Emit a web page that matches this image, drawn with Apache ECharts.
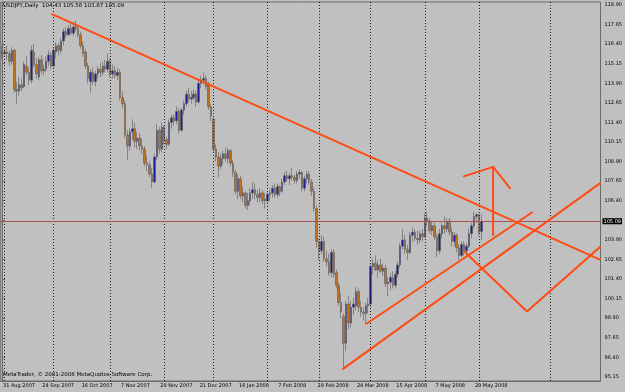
<!DOCTYPE html>
<html>
<head>
<meta charset="utf-8">
<title>USDJPY,Daily</title>
<script src="https://cdn.jsdelivr.net/npm/echarts@6/dist/echarts.min.js"></script>
<style>
html, body { margin: 0; padding: 0; background: #c0c0c0; }
#chart { width: 625px; height: 392px; }
</style>
</head>
<body>
<div id="chart"></div>
<script>
const symbol = 'USDJPY,Daily'
const copyright = 'MetaTrader, \u00a9 2001-2008 MetaQuotes Software Corp.'

// daily bars from 31 Aug 2007 to 3 Jun 2008
const opens = [115.9,115.8,115.9,115.8,115.3,116.0,113.5,113.4,113.8,113.7,115.0,114.6,114.1,115.9,115.1,114.3,115.4,114.7,114.8,115.3,
  115.7,115.0,115.9,116.3,116.0,116.6,117.2,117.0,117.4,117.1,117.5,117.4,117.0,116.3,115.9,115.0,114.0,114.6,114.0,114.5,
  114.8,114.6,115.0,114.8,115.3,114.5,114.7,114.4,114.6,113.0,112.6,110.6,109.9,110.8,111.0,110.2,110.4,109.9,109.7,108.8,
  108.7,108.1,107.6,109.2,110.9,109.7,111.1,110.3,110.0,111.4,111.7,111.5,112.1,110.9,112.2,112.6,113.2,112.9,113.0,113.2,
  112.7,113.9,114.1,114.2,113.8,112.4,111.6,109.7,109.2,108.6,109.1,109.4,109.1,109.6,108.8,108.2,107.0,107.8,106.7,106.9,
  106.1,106.4,106.9,107.1,106.8,106.6,106.9,106.4,106.4,106.8,106.9,107.2,106.8,107.3,107.0,107.6,108.0,107.8,108.0,107.9,
  107.7,108.1,108.2,107.2,107.8,108.1,107.6,107.0,105.9,103.8,103.2,103.8,102.7,102.5,101.8,103.1,101.8,101.0,99.9,99.0,
  97.3,99.8,98.6,99.6,99.7,100.6,99.6,99.3,99.2,99.7,99.8,102.2,102.4,102.0,102.3,101.9,102.1,101.1,101.2,101.5,
  101.0,101.7,102.3,103.5,103.9,103.3,103.1,104.2,104.4,104.0,103.9,104.3,104.1,105.3,105.1,104.5,104.8,104.1,103.2,104.3,
  104.8,104.6,105.1,104.4,103.8,104.2,103.4,102.9,103.6,103.2,103.5,104.3,104.8,105.4,105.5,104.43]
const highs = [116.3,116.1,116.3,116.0,116.2,116.1,114.0,114.3,114.2,115.3,115.6,114.9,116.3,116.4,115.5,115.6,115.7,115.1,115.6,116.0,
  115.9,116.2,116.5,116.5,116.8,117.4,117.5,117.6,117.7,117.8,117.9,117.6,117.2,116.6,116.1,115.2,114.8,114.9,114.7,115.0,
  115.2,115.3,115.4,115.8,115.5,115.1,115.0,114.9,114.8,113.4,112.8,110.9,111.0,111.6,111.4,110.8,110.7,110.4,109.9,109.3,
  108.9,108.5,109.4,111.3,111.1,111.4,111.2,110.5,111.6,111.9,111.9,112.4,112.3,112.3,112.8,113.4,113.6,113.4,113.5,113.4,
  114.1,114.4,114.6,114.4,114.0,112.6,111.7,110.0,109.5,109.4,109.6,109.8,109.8,109.7,109.0,108.4,108.1,108.0,107.3,107.0,
  106.9,107.2,107.6,107.5,107.1,107.2,107.1,106.9,107.0,107.1,107.4,107.5,107.5,107.4,107.8,108.2,108.3,108.2,108.5,108.1,
  108.3,108.4,108.3,108.0,108.3,108.3,107.8,107.2,106.1,104.0,104.2,104.1,103.2,103.0,103.3,103.3,102.0,101.2,100.5,99.2,
  100.0,100.3,100.0,100.2,100.9,100.8,100.0,99.6,99.9,100.2,102.4,102.7,102.9,102.6,102.7,102.4,102.3,101.5,101.8,101.9,
  101.9,102.5,103.7,104.6,104.2,103.6,104.4,104.7,104.6,104.5,104.5,104.6,105.6,105.7,105.3,105.1,105.0,104.3,104.6,105.0,
  105.4,105.3,105.3,104.7,104.4,104.3,103.6,103.8,103.8,103.7,104.6,105.0,105.7,105.6,105.6,105.56]
const lows = [115.5,115.6,115.4,115.0,115.1,113.3,112.6,113.1,113.4,113.6,114.4,113.8,113.9,114.9,114.2,114.1,114.5,114.4,114.6,115.0,
  114.8,114.9,115.5,115.7,115.8,116.3,116.8,116.9,117.0,116.9,117.2,116.8,116.1,115.6,114.8,113.9,113.3,113.8,113.7,114.2,
  114.3,114.4,114.6,114.6,114.3,114.2,114.2,114.1,112.8,112.3,110.4,109.0,109.6,110.3,109.8,109.7,109.6,109.4,108.6,108.3,
  107.9,107.2,107.5,109.0,109.4,109.5,110.0,109.7,109.9,111.0,111.2,111.3,110.7,110.8,111.9,112.4,112.7,112.6,112.8,112.4,
  112.6,113.6,113.8,113.5,112.2,111.5,109.5,108.9,107.9,108.4,108.7,108.9,108.8,108.6,107.9,106.8,106.5,106.5,106.3,105.9,
  105.8,106.1,106.5,106.5,106.3,106.3,106.2,105.9,106.2,106.4,106.6,106.6,106.6,106.7,106.9,107.4,107.6,107.4,107.7,107.5,
  107.5,107.8,107.0,107.0,107.5,107.4,106.7,105.7,103.4,102.6,103.0,102.5,102.2,101.6,101.5,101.5,100.8,99.7,98.9,95.7,
  96.8,98.2,98.3,99.1,99.4,99.3,99.0,98.8,98.5,99.2,99.6,101.7,101.9,101.5,101.8,101.6,100.9,100.3,100.7,100.8,
  100.8,101.5,102.1,103.3,103.0,102.6,103.0,103.8,103.8,103.6,103.7,103.8,104.0,104.8,104.3,104.2,103.9,102.8,103.0,104.0,
  104.3,104.4,104.2,103.5,103.5,103.1,102.6,102.8,102.9,103.0,103.4,104.0,104.6,105.0,104.2,103.87]
const closes = [115.8,115.9,115.8,115.3,116.0,113.5,113.4,113.8,113.6,115.1,114.6,114.1,116.0,115.1,114.5,115.4,114.7,114.8,115.3,115.7,
  115.0,116.0,116.3,116.0,116.6,117.2,117.0,117.4,117.1,117.5,117.4,117.0,116.3,115.8,115.0,114.2,114.6,114.0,114.5,114.8,
  114.6,115.0,114.8,115.3,114.5,114.7,114.4,114.6,113.0,112.6,110.6,109.9,110.8,111.0,110.2,110.4,109.9,109.7,108.8,108.7,
  108.1,107.6,109.2,110.9,109.7,111.1,110.3,110.0,111.4,111.7,111.5,112.1,110.9,112.2,112.6,113.2,112.9,113.0,113.2,112.7,
  113.9,114.1,114.2,113.7,112.4,111.8,109.7,109.2,108.6,109.1,109.4,109.1,109.6,108.8,108.2,107.0,107.8,106.7,106.9,106.1,
  106.4,106.9,107.1,106.8,106.6,106.9,106.4,106.5,106.8,106.9,107.2,106.8,107.3,107.0,107.6,108.0,107.8,108.0,107.9,107.7,
  108.1,108.2,107.2,107.8,108.1,107.6,107.0,105.9,103.8,103.2,103.8,102.7,102.5,101.8,103.1,101.7,101.0,99.9,99.3,97.3,
  99.8,98.6,99.6,99.8,100.6,99.6,99.3,99.2,99.7,99.8,102.2,102.4,102.0,102.3,101.9,102.1,101.1,101.2,101.5,101.0,
  101.7,102.3,103.5,103.9,103.3,103.1,104.2,104.4,104.0,103.9,104.3,104.1,105.3,105.1,104.5,104.8,104.1,103.2,104.3,104.8,
  104.6,105.1,104.4,103.8,104.2,103.4,102.9,103.6,103.2,103.5,104.3,104.8,105.4,105.5,104.4,105.09]

const priceTicks = [95.15, 96.40, 97.65, 98.90, 100.15, 101.40, 102.65, 103.90, 105.15, 106.40,
  107.65, 108.90, 110.15, 111.40, 112.65, 113.90, 115.15, 116.40, 117.65, 118.90]
const bidPrice = 105.09
const holidays = ['2007-12-25', '2008-01-01']
const monthNames = ['Jan', 'Feb', 'Mar', 'Apr', 'May', 'Jun', 'Jul', 'Aug', 'Sep', 'Oct', 'Nov', 'Dec']
const slotCount = 244
const labelEvery = 16
const lastLabel = 192

// objects drawn on the chart, anchored as [bar index, price]
const trendDown = [[20.1, 118.33], [243.5, 102.62]]
const channelUpper = [[148.1, 98.53], [215.9, 105.68]]
const channelLower = [[138.5, 95.63], [243.5, 107.54]]
const projection = [[188.1, 103.16], [213.6, 99.33], [243.5, 103.48]]
const arrowShaft = [[199.8, 104.15], [199.8, 108.62]]
const arrowHead = [[187.6, 107.94], [199.8, 108.56], [206.9, 107.15]]

// trading days for the bars, then calendar days for the empty area on the right
let dates = []
let d = new Date(Date.UTC(2007, 7, 31))
while (dates.length < opens.length) {
    let wd = d.getUTCDay()
    if (wd !== 0 && wd !== 6 && !holidays.includes(d.toISOString().slice(0, 10))) {
        dates.push(new Date(d))
    }
    d.setUTCDate(d.getUTCDate() + 1)
}
while (dates.length < slotCount) {
    dates.push(new Date(d))
    d.setUTCDate(d.getUTCDate() + 1)
}
const categories = dates.map(x => x.getUTCDate() + ' ' + monthNames[x.getUTCMonth()] + ' ' + x.getUTCFullYear())
let monthStarts = []
for (let i = 1; i < dates.length; i++) {
    if (dates[i].getUTCMonth() !== dates[i - 1].getUTCMonth()) monthStarts.push(i)
}

const candles = opens.map((o, i) => [o, closes[i], lows[i], highs[i]])
const last = candles.length - 1
const header = symbol + '  ' + [opens[last], highs[last], lows[last], closes[last]].map(v => v.toFixed(2)).join(' ')

const font = 'DejaVu Sans'
const frame = '#6a6a6a'
const labelInterval = (i) => i % labelEvery === 0 && i <= lastLabel

let myChart = echarts.init(document.getElementById('chart'))

const drawing = (pts) => ({
    type: 'line',
    xAxisIndex: 1,
    data: pts,
    symbol: 'none',
    silent: true,
    z: 6,
    lineStyle: { color: '#ff4b12', width: 2 }
})

let option = {
    animation: false,
    backgroundColor: '#c0c0c0',
    grid: {
        left: 0, right: 24, top: 2, bottom: 11,
        show: true,
        borderColor: frame,
        borderWidth: 1,
        backgroundColor: '#c0c0c0'
    },
    graphic: [
        { type: 'text', left: 3, top: 3, style: { text: header, fill: '#000', fontSize: 5.5, fontFamily: font } },
        { type: 'text', left: 3, top: 372, style: { text: copyright, fill: '#000', fontSize: 5.5, fontFamily: font } }
    ],
    xAxis: [
        {
            type: 'category',
            data: categories,
            boundaryGap: true,
            axisLine: { lineStyle: { color: frame } },
            axisTick: { alignWithLabel: true, interval: labelInterval, length: 3, lineStyle: { color: frame } },
            axisLabel: {
                interval: labelInterval,
                align: 'left',
                margin: 2,
                padding: [0, 0, 0, 1],
                fontSize: 5,
                fontFamily: font,
                color: '#000'
            },
            splitLine: { show: false }
        },
        { type: 'value', min: -0.5, max: slotCount - 0.5, show: false }
    ],
    yAxis: {
        type: 'value',
        position: 'right',
        min: 94.89,
        max: 119.09,
        axisLine: { show: true, lineStyle: { color: frame } },
        axisTick: { show: true, customValues: priceTicks, length: 3, lineStyle: { color: frame } },
        axisLabel: {
            customValues: priceTicks,
            formatter: v => v.toFixed(2),
            margin: 4,
            fontSize: 5,
            fontFamily: font,
            color: '#000'
        },
        splitLine: { show: false }
    },
    series: [
        {
            type: 'line',
            xAxisIndex: 1,
            data: [],
            silent: true,
            z: 1,
            markLine: {
                silent: true,
                symbol: 'none',
                label: { show: false },
                lineStyle: { color: '#1e1e1e', type: [1, 2], width: 1 },
                data: monthStarts.map(i => ({ xAxis: i }))
            }
        },
        {
            name: symbol,
            type: 'candlestick',
            data: candles,
            barWidth: 2,
            z: 3,
            itemStyle: {
                color: '#1c1ca0',
                color0: '#c46f1c',
                borderColor: '#5a5a5a',
                borderColor0: '#5a5a5a',
                borderWidth: 0.6
            },
            markLine: {
                silent: true,
                symbol: 'none',
                lineStyle: { color: '#a8524a', type: 'solid', width: 1 },
                label: {
                    position: 'end',
                    distance: 2,
                    formatter: bidPrice.toFixed(2),
                    backgroundColor: '#000',
                    color: '#fff',
                    fontSize: 5,
                    fontFamily: font,
                    padding: [1, 1, 0, 1]
                },
                data: [{ yAxis: bidPrice }]
            }
        },
        drawing(trendDown),
        drawing(channelUpper),
        drawing(channelLower),
        drawing(projection),
        drawing(arrowShaft),
        drawing(arrowHead)
    ]
}
myChart.setOption(option)

window.addEventListener('resize', () => {
    myChart.resize()
})
</script>
</body>
</html>
